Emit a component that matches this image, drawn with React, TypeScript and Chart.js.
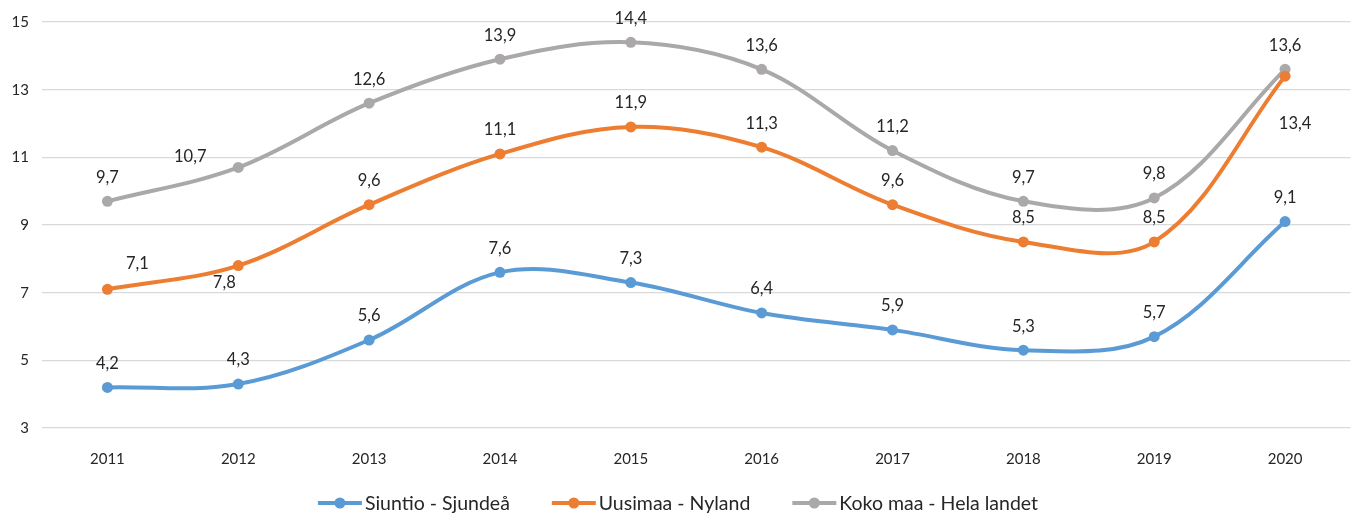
import React, { useEffect, useRef } from "react";
import { Chart, registerables } from "chart.js";

Chart.register(...registerables);

const years = ["2011", "2012", "2013", "2014", "2015", "2016", "2017", "2018", "2019", "2020"];
const siuntio = [4.2, 4.3, 5.6, 7.6, 7.3, 6.4, 5.9, 5.3, 5.7, 9.1];
const uusimaa = [7.1, 7.8, 9.6, 11.1, 11.9, 11.3, 9.6, 8.5, 8.5, 13.4];
const kokoMaa = [9.7, 10.7, 12.6, 13.9, 14.4, 13.6, 11.2, 9.7, 9.8, 13.6];
const seriesNames = ["Siuntio - Sjundeå", "Uusimaa - Nyland", "Koko maa - Hela landet"];
const seriesColors = ["#5B9BD5", "#ED7D31", "#ABA8A8"];
const yTicks = { min: 3, max: 15, step: 2 };

// label placement offsets (dx, dy) from each point, per series
const D: [number, number] = [0, -24];
const labelOffsets: [number, number][][] = [
  [D, D, D, D, D, D, D, D, D, D],
  [[30, -26], [-14, 17], D, D, D, D, D, D, D, [10, 48]],
  [D, [-48, -11], D, D, D, D, D, D, D, D],
];

const FONT = "Lato, 'Open Sans', sans-serif";

const fmt = (v: number) => v.toFixed(1).replace(".", ",");

const labelsPlugin = {
  id: "pointLabels",
  afterDatasetsDraw(chart: any) {
    const ctx = chart.ctx;
    ctx.save();
    ctx.font = `16.5px ${FONT}`;
    ctx.fillStyle = "#262626";
    ctx.textAlign = "center";
    ctx.textBaseline = "middle";
    chart.data.datasets.forEach((ds: any, di: number) => {
      const meta = chart.getDatasetMeta(di);
      meta.data.forEach((pt: any, i: number) => {
        const [dx, dy] = labelOffsets[di][i];
        ctx.fillText(fmt(ds.data[i]), pt.x + dx, pt.y + dy);
      });
    });
    ctx.restore();
  },
};

const legendPlugin = {
  id: "customLegend",
  afterDraw(chart: any) {
    const ctx = chart.ctx;
    ctx.save();
    ctx.font = `19.5px ${FONT}`;
    ctx.textBaseline = "middle";
    const lineW = 44;
    const gapText = 3;
    const gapItem = 42;
    const widths = seriesNames.map((n) => lineW + gapText + ctx.measureText(n).width);
    const total = widths.reduce((a, b) => a + b, 0) + gapItem * (seriesNames.length - 1);
    let x = chart.width / 2 - total / 2;
    const y = 503;
    seriesNames.forEach((n, i) => {
      ctx.strokeStyle = seriesColors[i];
      ctx.lineWidth = 4;
      ctx.beginPath();
      ctx.moveTo(x, y);
      ctx.lineTo(x + lineW, y);
      ctx.stroke();
      ctx.fillStyle = seriesColors[i];
      ctx.beginPath();
      ctx.arc(x + lineW / 2, y, 5.5, 0, Math.PI * 2);
      ctx.fill();
      ctx.fillStyle = "#262626";
      ctx.textAlign = "left";
      ctx.fillText(n, x + lineW + gapText, y + 1);
      x += widths[i] + gapItem;
    });
    ctx.restore();
  },
};

export default function App() {
  const ref = useRef<HTMLCanvasElement>(null);
  useEffect(() => {
    document.body.style.margin = "0";
    const all = [siuntio, uusimaa, kokoMaa];
    const chart = new Chart(ref.current!, {
      type: "line",
      data: {
        labels: years,
        datasets: all.map((d, i) => ({
          label: seriesNames[i],
          data: d,
          borderColor: seriesColors[i],
          backgroundColor: seriesColors[i],
          borderWidth: 4,
          pointRadius: 5.5,
          pointHoverRadius: 5.5,
          pointBorderWidth: 0,
          tension: 0.35,
          fill: false,
        })),
      },
      options: {
        animation: false,
        responsive: false,
        maintainAspectRatio: false,
        layout: { padding: { top: 19, right: 3, left: 0, bottom: 0 } },
        plugins: { legend: { display: false }, tooltip: { enabled: false } },
        scales: {
          x: {
            offset: true,
            grid: { display: false },
            border: { display: false },
            ticks: { color: "#262626", font: { family: FONT, size: 15 }, padding: 14 },
            afterFit(scale: any) {
              scale.height = 87;
            },
          },
          y: {
            min: yTicks.min,
            max: yTicks.max,
            grid: { color: "#D9D9D9", lineWidth: 1.3, drawTicks: false },
            border: { display: false },
            ticks: {
              stepSize: yTicks.step,
              color: "#262626",
              font: { family: FONT, size: 15 },
              padding: 13,
            },
            afterFit(scale: any) {
              scale.width = 42;
            },
          },
        },
      },
      plugins: [labelsPlugin, legendPlugin],
    });
    return () => chart.destroy();
  }, []);
  return (
    <div style={{ width: 1356, height: 515 }}>
      <canvas ref={ref} width={1356} height={515} style={{ display: "block" }} />
    </div>
  );
}
